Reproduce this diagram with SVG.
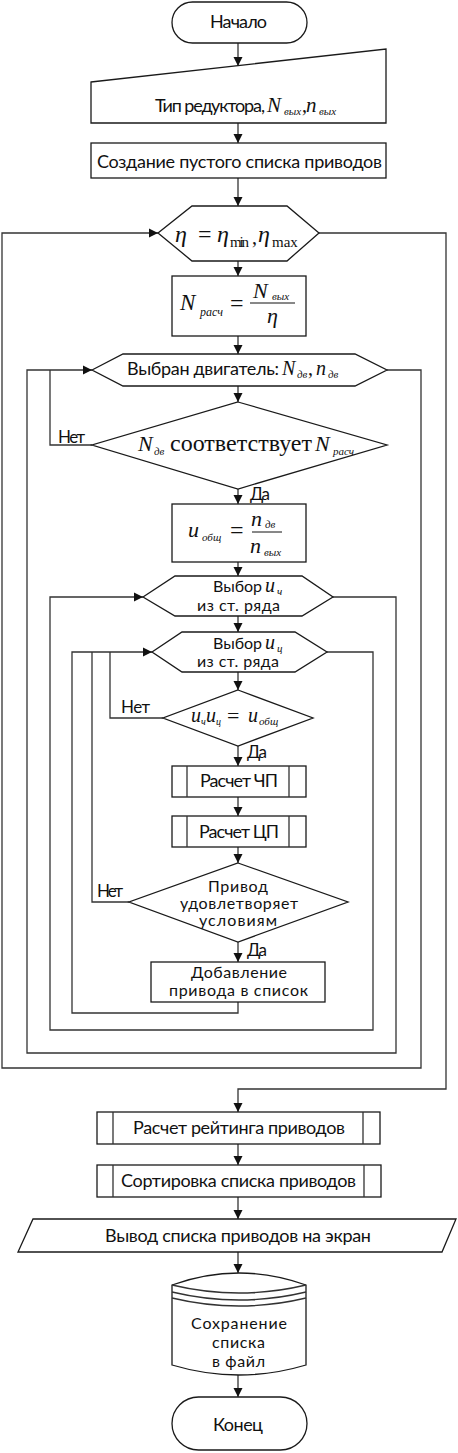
<svg xmlns="http://www.w3.org/2000/svg" width="458" height="1453" viewBox="0 0 458 1453">
<style>
.s{fill:#fff;stroke:#1a1a1a;stroke-width:1.3}
.c{fill:none;stroke:#333;stroke-width:1.3}
.l{font-family:Lato,"Noto Sans",sans-serif;font-size:18px;fill:#111}
.t{font-family:Lato,"Noto Sans",sans-serif;font-size:16px;fill:#111}
.sm{font-family:Lato,"Noto Sans",sans-serif;font-size:17px;fill:#111}
.m{font-family:"Liberation Serif","DejaVu Serif",serif;font-style:italic;fill:#111}
.r{font-family:"Liberation Serif","DejaVu Serif",serif;fill:#111}
</style>
<defs>
<marker id="a" viewBox="0 0 10 10" refX="10" refY="5" markerWidth="9" markerHeight="10" markerUnits="userSpaceOnUse" orient="auto">
<path d="M0,0 L10,5 L0,10 z" fill="#111"/>
</marker>
</defs>
<g id="connectors" class="c">
<path d="M238,43 V66" marker-end="url(#a)"/>
<path d="M238,123 V143" marker-end="url(#a)"/>
<path d="M238,178 V206" marker-end="url(#a)"/>
<path d="M238,261 V276" marker-end="url(#a)"/>
<path d="M238,336 V354" marker-end="url(#a)"/>
<path d="M238,386 V402" marker-end="url(#a)"/>
<path d="M238,489 V504" marker-end="url(#a)"/>
<path d="M238,562 V576" marker-end="url(#a)"/>
<path d="M238,616 V632" marker-end="url(#a)"/>
<path d="M238,672 V690" marker-end="url(#a)"/>
<path d="M238,746 V766" marker-end="url(#a)"/>
<path d="M238,797 V816" marker-end="url(#a)"/>
<path d="M238,847 V863" marker-end="url(#a)"/>
<path d="M238,942 V962" marker-end="url(#a)"/>
<path d="M238,1002 V1013 H72 V652 H152" marker-end="url(#a)"/>
<path d="M163,718 H110 V652"/>
<path d="M129,902 H92 V652"/>
<path d="M327,652 H373 V1030 H50 V597 H143" marker-end="url(#a)"/>
<path d="M333,597 H396 V1053 H27 V370 H92" marker-end="url(#a)"/>
<path d="M92,445 H50 V370"/>
<path d="M387,370 H421 V1068 H2 V233 H158" marker-end="url(#a)"/>
<path d="M319,233 H446 V1089 H238 V1112" marker-end="url(#a)"/>
<path d="M238,1144 V1165" marker-end="url(#a)"/>
<path d="M238,1197 V1219" marker-end="url(#a)"/>
<path d="M238,1252 V1273" marker-end="url(#a)"/>
<path d="M238,1375 V1397" marker-end="url(#a)"/>
</g>
<g id="start">
<rect class="s" x="172" y="2" width="135" height="41" rx="20.5"/>
<text class="l" x="210" y="28" textLength="57">Начало</text>
</g>
<g id="input">
<polygon class="s" points="91,82 386,49 386,123 91,123"/>
<text class="l" x="155" y="112" textLength="110">Тип редуктора,</text>
<text class="m" x="267" y="112" font-size="21">N</text>
<text class="m" x="284" y="115" font-size="11">вых</text>
<text class="r" x="302" y="112" font-size="20">,</text>
<text class="m" x="306" y="112" font-size="21">n</text>
<text class="m" x="319" y="115" font-size="11">вых</text>
</g>
<g id="create-list">
<rect class="s" x="91" y="143" width="295" height="35"/>
<text class="l" x="97" y="168" textLength="285">Создание пустого списка приводов</text>
</g>
<g id="loop-eta">
<polygon class="s" points="158,233 192,206 287,206 319,233 287,261 192,261"/>
<text class="m" x="175" y="242" font-size="24">η</text>
<text class="r" x="198" y="242" font-size="24">=</text>
<text class="m" x="217" y="242" font-size="24">η</text>
<text class="r" x="230" y="247" font-size="15" textLength="19">min</text>
<text class="r" x="252" y="244" font-size="20">,</text>
<text class="m" x="258" y="242" font-size="24">η</text>
<text class="r" x="272" y="247" font-size="15">max</text>
</g>
<g id="n-calc">
<rect class="s" x="172" y="276" width="134" height="60"/>
<text class="m" x="180" y="310" font-size="23">N</text>
<text class="m" x="200" y="316" font-size="12">расч</text>
<text class="r" x="230" y="311" font-size="24">=</text>
<line x1="250" y1="303" x2="295" y2="303" stroke="#111" stroke-width="1"/>
<text class="m" x="253" y="298" font-size="22">N</text>
<text class="m" x="272" y="300" font-size="11">вых</text>
<text class="m" x="267" y="323" font-size="22">η</text>
</g>
<g id="loop-motor">
<polygon class="s" points="92,370 123,354 355,354 387,370 355,386 123,386"/>
<text class="l" x="127" y="375" textLength="152">Выбран двигатель:</text>
<text class="m" x="282" y="375" font-size="20">N</text>
<text class="m" x="297" y="378" font-size="11">дв</text>
<text class="r" x="308" y="375" font-size="20">,</text>
<text class="m" x="316" y="375" font-size="20">n</text>
<text class="m" x="328" y="378" font-size="11">дв</text>
</g>
<g id="check-power">
<polygon class="s" points="238,402 387,445 238,489 92,445"/>
<text class="m" x="138" y="451" font-size="22">N</text>
<text class="m" x="154" y="455" font-size="11">дв</text>
<text class="r" x="170" y="451" font-size="24" textLength="142">соответствует</text>
<text class="m" x="315" y="451" font-size="22">N</text>
<text class="m" x="333" y="455" font-size="11">расч</text>
<text class="sm" x="58" y="443" textLength="27">Нет</text>
<text class="sm" x="250" y="500" textLength="20">Да</text>
</g>
<g id="u-total">
<rect class="s" x="172" y="504" width="134" height="58"/>
<text class="m" x="188" y="537" font-size="22">u</text>
<text class="m" x="202" y="541" font-size="11">общ</text>
<text class="r" x="230" y="538" font-size="24">=</text>
<line x1="252" y1="532" x2="282" y2="532" stroke="#111" stroke-width="1"/>
<text class="m" x="251" y="526" font-size="22">n</text>
<text class="m" x="265" y="528" font-size="11">дв</text>
<text class="m" x="250" y="553" font-size="22">n</text>
<text class="m" x="264" y="556" font-size="11">вых</text>
</g>
<g id="loop-uch">
<polygon class="s" points="143,597 175,576 302,576 333,597 302,616 175,616"/>
<text class="t" x="213" y="592" textLength="49">Выбор</text>
<text class="m" x="265" y="592" font-size="20">u</text>
<text class="m" x="277" y="595" font-size="11">ч</text>
<text class="t" x="197" y="611" textLength="83">из ст. ряда</text>
</g>
<g id="loop-uc">
<polygon class="s" points="152,652 182,632 295,632 327,652 295,672 182,672"/>
<text class="t" x="213" y="649" textLength="49">Выбор</text>
<text class="m" x="265" y="649" font-size="20">u</text>
<text class="m" x="277" y="652" font-size="11">ц</text>
<text class="t" x="197" y="667" textLength="82">из ст. ряда</text>
</g>
<g id="check-ratio">
<polygon class="s" points="238,690 313,718 238,746 163,718"/>
<text class="m" x="191" y="722" font-size="20">u</text>
<text class="m" x="201" y="725" font-size="10">ч</text>
<text class="m" x="206" y="722" font-size="20">u</text>
<text class="m" x="216" y="725" font-size="10">ц</text>
<text class="r" x="227" y="723" font-size="22">=</text>
<text class="m" x="248" y="722" font-size="20">u</text>
<text class="m" x="259" y="725" font-size="11">общ</text>
<text class="sm" x="121" y="713" textLength="29">Нет</text>
<text class="sm" x="247" y="758" textLength="20">Да</text>
</g>
<g id="calc-chp">
<rect class="s" x="172" y="766" width="134" height="31"/>
<path class="c" d="M187,766 V797 M289,766 V797"/>
<text class="l" x="200" y="787" textLength="78">Расчет ЧП</text>
</g>
<g id="calc-cp">
<rect class="s" x="172" y="816" width="134" height="31"/>
<path class="c" d="M187,816 V847 M289,816 V847"/>
<text class="l" x="199" y="838" textLength="80">Расчет ЦП</text>
</g>
<g id="check-drive">
<polygon class="s" points="238,863 348,902 238,942 129,902"/>
<text class="t" x="208" y="892" textLength="60">Привод</text>
<text class="t" x="180" y="909" textLength="118">удовлетворяет</text>
<text class="t" x="199" y="926" textLength="78">условиям</text>
<text class="sm" x="97" y="897" textLength="26">Нет</text>
<text class="sm" x="247" y="956" textLength="20">Да</text>
</g>
<g id="add-drive">
<rect class="s" x="151" y="962" width="174" height="40"/>
<text class="t" x="191" y="978" textLength="96">Добавление</text>
<text class="t" x="169" y="996" textLength="139">привода в список</text>
</g>
<g id="rating">
<rect class="s" x="97" y="1112" width="283" height="32"/>
<path class="c" d="M113,1112 V1144 M363,1112 V1144"/>
<text class="l" x="133" y="1134" textLength="212">Расчет рейтинга приводов</text>
</g>
<g id="sort">
<rect class="s" x="97" y="1165" width="284" height="32"/>
<path class="c" d="M113,1165 V1197 M364,1165 V1197"/>
<text class="l" x="121" y="1187" textLength="235">Сортировка списка приводов</text>
</g>
<g id="output">
<polygon class="s" points="33,1219 456,1219 442,1252 18,1252"/>
<text class="l" x="105" y="1242" textLength="266">Вывод списка приводов на экран</text>
</g>
<g id="save">
<path class="s" d="M172,1285 L172,1365 Q239,1385 306,1365 L306,1285 Q239,1261 172,1285 Z"/>
<path class="c" d="M172,1285 Q239,1301 306,1285 M172,1292 Q239,1308 306,1292 M172,1298 Q239,1314 306,1298"/>
<text class="t" x="191" y="1329" textLength="96">Сохранение</text>
<text class="t" x="212" y="1348" textLength="53">списка</text>
<text class="t" x="212" y="1367" textLength="53">в файл</text>
</g>
<g id="end">
<rect class="s" x="172" y="1397" width="135" height="53" rx="26.5"/>
<text class="l" x="213" y="1431" textLength="50">Конец</text>
</g>
</svg>
